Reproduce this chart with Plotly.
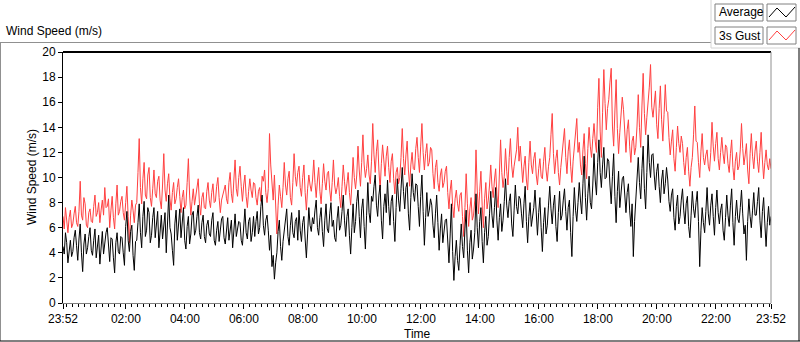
import pandas as pd
import plotly.graph_objects as go

# ---------------- data (2.5-minute samples, 23:52 -> 23:52 next day) ----------------
start_time = "2020-01-01 23:52"
step = "150s"

average = [
    4.5, 3.9, 5.6, 4.8, 3.2, 4.4, 5.0, 3.7, 4.1, 5.2, 5.8, 4.6,
    3.4, 5.1, 6.3, 4.0, 2.5, 4.7, 5.5, 3.9, 4.4, 5.3, 6.0, 4.2,
    3.8, 5.0, 5.9, 3.6, 4.6, 5.4, 3.1, 4.5, 5.7, 3.9, 4.9, 5.6,
    6.0, 4.7, 3.3, 5.2, 5.1, 3.6, 2.4, 4.8, 5.6, 4.1, 3.9, 5.3,
    5.2, 4.0, 3.0, 6.1, 7.3, 5.0, 4.1, 5.7, 6.2, 3.8, 2.6, 4.9,
    5.0, 6.4, 7.9, 5.6, 4.4, 6.9, 8.1, 5.3, 5.8, 7.6, 7.2, 4.8,
    5.4, 6.8, 7.6, 5.2, 6.1, 7.3, 4.4, 5.9, 7.0, 5.1, 6.4, 7.2,
    4.0, 6.5, 8.6, 6.0, 5.5, 4.2, 3.0, 6.3, 7.4, 5.0, 6.2, 7.5,
    5.2, 6.6, 7.6, 5.0, 4.3, 6.1, 6.9, 4.7, 5.5, 7.0, 7.3, 5.4,
    5.8, 6.9, 7.8, 5.6, 5.1, 6.4, 7.0, 5.3, 4.8, 6.2, 6.6, 5.5,
    5.3, 6.6, 7.2, 5.0, 4.6, 5.8, 6.5, 4.9, 5.6, 6.7, 6.9, 5.2,
    4.7, 6.1, 6.8, 5.0, 5.9, 6.6, 4.4, 5.5, 7.1, 5.3, 5.8, 6.5,
    6.4, 5.0, 4.6, 6.3, 7.5, 5.6, 5.1, 6.5, 6.8, 4.9, 5.6, 6.9,
    5.3, 6.5, 7.3, 5.5, 6.0, 7.7, 8.6, 6.2, 5.4, 6.6, 7.0, 5.8,
    4.2, 5.4, 2.9, 3.8, 1.9, 3.2, 4.0, 5.7, 6.6, 4.5, 3.4, 4.9,
    5.9, 6.9, 7.5, 5.3, 4.6, 6.2, 7.2, 5.6, 5.2, 6.5, 6.8, 5.0,
    7.4, 5.8, 4.9, 6.4, 6.9, 5.1, 3.6, 5.5, 7.6, 6.2, 5.7, 6.8,
    6.3, 7.4, 8.2, 6.0, 5.4, 6.8, 7.6, 5.7, 4.5, 6.6, 7.9, 5.9,
    5.6, 7.1, 8.0, 6.1, 6.6, 5.2, 4.9, 6.7, 7.7, 5.8, 6.2, 7.3,
    8.6, 6.6, 5.3, 6.9, 7.5, 5.4, 3.9, 6.0, 7.9, 5.6, 6.5, 8.1,
    9.0, 6.9, 5.2, 7.5, 8.3, 6.1, 4.3, 7.0, 9.6, 7.2, 6.4, 8.5,
    8.1, 9.3, 10.2, 7.8, 6.9, 8.6, 9.4, 6.6, 5.1, 7.7, 8.7, 7.2,
    9.8, 7.7, 6.2, 8.1, 8.6, 6.5, 4.9, 7.6, 9.9, 8.2, 7.3, 9.1,
    10.8, 8.9, 7.5, 9.2, 9.6, 7.1, 5.8, 8.4, 10.3, 8.8, 8.1, 9.5,
    9.4, 7.7, 6.1, 8.5, 10.2, 7.3, 4.6, 6.8, 8.8, 6.9, 7.4, 8.3,
    7.8, 6.2, 5.2, 7.1, 8.6, 6.4, 4.2, 5.9, 7.1, 4.8, 5.6, 6.6,
    6.7, 4.8, 3.2, 5.5, 7.9, 4.1, 1.8, 3.7, 5.0, 3.4, 2.6, 4.6,
    6.3, 4.5, 3.6, 5.9, 7.4, 4.2, 2.4, 4.8, 5.8, 3.5, 4.3, 5.6,
    8.7, 6.0, 4.4, 6.5, 7.6, 4.9, 3.2, 5.6, 6.9, 4.6, 5.3, 7.1,
    8.9, 7.0, 6.0, 7.6, 9.2, 6.6, 5.0, 6.8, 7.9, 5.7, 6.6, 8.1,
    9.9, 7.8, 6.8, 8.1, 8.7, 6.3, 5.3, 7.4, 9.4, 7.7, 7.1, 8.5,
    8.3, 7.1, 6.0, 7.9, 9.3, 6.5, 4.8, 6.9, 8.0, 6.1, 6.7, 7.6,
    9.0, 6.8, 5.4, 7.2, 8.4, 6.0, 4.1, 6.4, 7.6, 5.5, 6.2, 7.8,
    9.3, 7.5, 6.3, 7.8, 8.6, 6.1, 4.9, 7.2, 8.9, 6.6, 7.0, 8.2,
    9.1, 7.3, 5.8, 7.6, 8.2, 5.6, 3.7, 6.9, 9.2, 7.4, 6.5, 8.0,
    9.6, 8.2, 7.1, 9.5, 11.7, 8.4, 6.6, 8.7, 10.1, 8.0, 7.5, 9.4,
    11.9, 9.8, 8.6, 11.2, 13.0, 10.4, 9.2, 11.0, 12.4, 9.9, 10.0, 11.5,
    11.3, 9.4, 7.9, 10.1, 11.9, 8.5, 6.4, 8.9, 10.5, 7.6, 8.7, 9.9,
    10.1, 8.3, 7.2, 8.8, 9.5, 7.4, 6.1, 7.9, 3.7, 6.5, 8.4, 9.6,
    11.6, 9.6, 8.3, 10.7, 12.5, 9.1, 7.5, 10.4, 13.4, 11.2, 10.0, 11.8,
    11.9, 10.2, 9.0, 10.5, 11.1, 9.3, 8.0, 9.8, 10.6, 8.7, 9.5, 10.8,
    9.8, 8.1, 7.3, 8.6, 9.1, 6.8, 5.8, 7.7, 8.6, 6.3, 6.9, 8.2,
    9.1, 7.4, 6.3, 7.9, 8.5, 6.1, 5.2, 7.0, 8.9, 7.5, 6.8, 8.0,
    8.9, 6.5, 2.9, 5.8, 7.6, 6.4, 5.6, 7.3, 9.2, 7.1, 6.2, 7.8,
    8.7, 6.9, 5.4, 7.6, 9.0, 7.2, 6.3, 7.4, 7.9, 5.8, 5.0, 6.8,
    8.6, 7.0, 6.1, 7.8, 9.1, 6.4, 4.6, 6.9, 8.2, 6.7, 6.4, 7.6,
    9.0, 7.1, 5.5, 6.2, 3.4, 6.5, 8.3, 6.9, 6.0, 7.4, 8.8, 7.0,
    7.0, 8.1, 9.2, 6.6, 5.2, 7.3, 8.4, 6.3, 4.5, 6.4, 7.7, 6.2,
    6.9,
]

gust = [
    6.9, 5.9, 7.6, 6.5, 5.6, 6.8, 7.4, 6.0, 6.3, 7.1, 7.7, 6.4,
    6.1, 7.3, 9.7, 7.0, 6.6, 8.4, 7.9, 6.2, 6.0, 7.2, 7.5, 6.5,
    6.4, 7.7, 8.6, 6.9, 7.2, 8.0, 6.4, 7.4, 8.2, 7.0, 9.2, 7.6,
    7.7, 8.3, 6.0, 7.4, 8.5, 6.8, 5.9, 7.9, 9.4, 7.0, 7.3, 8.1,
    8.5, 7.2, 6.6, 8.0, 9.3, 6.9, 4.8, 7.0, 8.2, 7.4, 6.4, 7.8,
    8.0, 10.4, 13.1, 9.2, 7.9, 9.9, 11.2, 8.6, 8.3, 10.2, 10.8, 8.4,
    7.7, 9.1, 10.6, 8.7, 8.4, 9.7, 10.1, 8.2, 7.5, 9.4, 11.9, 9.0,
    8.1, 9.5, 10.3, 8.3, 7.4, 8.8, 9.6, 7.9, 8.3, 9.2, 9.9, 8.5,
    7.2, 8.4, 9.0, 7.5, 7.8, 9.6, 11.5, 8.6, 7.0, 8.1, 9.1, 7.8,
    8.6, 9.3, 9.9, 7.9, 7.0, 8.4, 8.8, 7.6, 7.5, 8.9, 9.6, 8.2,
    7.6, 8.8, 9.5, 8.0, 8.1, 9.3, 10.0, 8.4, 7.2, 8.2, 8.7, 8.9,
    9.4, 8.3, 7.9, 9.6, 10.4, 8.7, 8.0, 9.8, 11.4, 9.1, 8.5, 10.0,
    10.9, 9.3, 8.1, 9.4, 10.2, 8.5, 7.6, 8.9, 9.9, 9.0, 8.4, 9.6,
    9.5, 8.4, 7.8, 8.9, 9.2, 8.1, 10.1, 9.7, 10.6, 8.8, 8.0, 9.1,
    13.5, 11.0, 9.0, 8.2, 10.2, 7.1, 5.5, 7.8, 9.4, 8.5, 7.6, 9.2,
    11.2, 9.4, 8.6, 9.9, 10.5, 8.4, 7.8, 9.6, 11.9, 10.1, 9.3, 10.4,
    10.9, 9.2, 8.5, 10.0, 11.0, 8.8, 7.4, 9.1, 10.2, 9.4, 8.9, 9.8,
    11.4, 9.6, 8.4, 9.8, 10.8, 8.9, 7.9, 9.5, 11.1, 9.7, 9.0, 10.3,
    10.5, 9.0, 8.1, 9.6, 11.4, 9.4, 8.7, 9.2, 10.0, 8.5, 7.6, 9.3,
    11.0, 9.7, 8.6, 9.5, 10.4, 8.8, 7.8, 9.4, 11.6, 10.0, 9.1, 10.2,
    12.5, 10.6, 9.3, 11.2, 13.4, 11.0, 10.0, 10.7, 11.8, 10.2, 9.5, 11.3,
    14.3, 11.8, 10.4, 12.1, 13.0, 10.6, 9.0, 11.1, 12.6, 11.4, 10.1, 11.7,
    12.5, 10.8, 9.6, 11.3, 11.9, 9.9, 8.7, 10.4, 10.8, 9.5, 10.0, 11.6,
    13.9, 11.5, 10.2, 11.8, 12.9, 10.6, 9.3, 11.0, 12.0, 10.7, 10.6, 12.3,
    13.2, 11.6, 10.4, 12.5, 14.3, 12.0, 10.6, 11.9, 12.7, 10.9, 11.2, 12.4,
    12.2, 10.3, 9.1, 10.8, 11.4, 9.6, 8.9, 10.2, 10.7, 9.2, 9.6, 10.5,
    10.9, 8.8, 7.5, 9.0, 9.8, 7.7, 6.8, 8.3, 9.0, 7.9, 7.3, 8.6,
    8.8, 6.9, 5.3, 7.6, 10.3, 7.9, 6.1, 7.5, 8.4, 6.6, 7.0, 8.2,
    12.2, 9.0, 7.1, 8.9, 10.5, 7.8, 6.0, 8.3, 9.6, 7.5, 8.2, 9.4,
    11.0, 9.3, 8.4, 9.8, 10.7, 8.6, 7.6, 10.2, 13.0, 10.4, 9.2, 10.1,
    12.3, 10.5, 9.4, 11.6, 13.1, 11.0, 10.0, 10.9, 11.4, 12.2, 14.0, 11.3,
    12.5, 10.8, 9.6, 10.9, 11.7, 9.8, 9.0, 11.2, 12.9, 11.0, 10.3, 11.5,
    12.0, 10.2, 9.4, 10.7, 11.5, 10.1, 9.9, 11.3, 12.4, 10.6, 9.7, 10.9,
    11.6, 13.4, 15.1, 11.9, 10.3, 11.5, 12.2, 10.4, 9.4, 10.8, 11.7, 12.6,
    13.9, 11.6, 10.3, 12.1, 13.0, 10.9, 9.6, 11.3, 12.4, 13.5, 14.7, 12.0,
    12.8, 11.0, 10.2, 12.2, 13.5, 11.1, 9.9, 12.3, 14.0, 12.5, 11.6, 13.1,
    14.3, 12.9, 12.0, 15.6, 17.9, 13.7, 11.6, 15.2, 18.6, 15.9, 13.8, 15.5,
    16.2, 17.6, 18.7, 14.1, 12.5, 15.3, 17.8, 13.9, 11.9, 13.6, 15.0, 16.4,
    15.4, 13.4, 12.0, 13.8, 14.6, 12.5, 11.2, 12.9, 13.3, 11.8, 12.4, 14.1,
    16.6, 14.0, 12.4, 15.7, 18.3, 15.1, 13.4, 14.8, 15.8, 17.2, 19.0, 15.6,
    14.8, 15.9, 16.9, 14.2, 13.1, 15.5, 17.3, 14.6, 12.9, 15.0, 17.4, 15.3,
    15.2, 13.2, 11.8, 12.9, 13.8, 11.5, 10.5, 12.4, 14.1, 12.7, 12.0, 13.3,
    12.7, 11.2, 10.2, 11.6, 12.4, 10.5, 9.3, 10.8, 11.6, 13.4, 15.7, 12.9,
    12.8, 11.2, 10.0, 12.1, 13.5, 11.6, 11.0, 11.8, 12.2, 10.9, 10.5, 12.0,
    14.4, 12.5, 11.3, 12.7, 13.6, 11.5, 10.6, 12.0, 13.2, 11.9, 11.1, 12.6,
    12.4, 11.1, 10.4, 11.9, 13.0, 10.8, 9.8, 11.3, 12.0, 10.6, 10.9, 12.2,
    14.3, 12.3, 11.0, 11.8, 12.7, 10.6, 9.5, 11.9, 13.5, 11.7, 10.7, 12.1,
    12.9, 11.3, 10.4, 12.0, 13.6, 11.4, 9.9, 11.2, 12.2, 11.0, 10.6, 11.5,
    10.7,
]

assert len(average) == len(gust) == 577

x_tick_times = ["2020-01-01 23:52", "2020-01-02 02:00", "2020-01-02 04:00",
                "2020-01-02 06:00", "2020-01-02 08:00", "2020-01-02 10:00",
                "2020-01-02 12:00", "2020-01-02 14:00", "2020-01-02 16:00",
                "2020-01-02 18:00", "2020-01-02 20:00", "2020-01-02 22:00",
                "2020-01-02 23:52"]
x_tick_text = ["23:52", "02:00", "04:00", "06:00", "08:00", "10:00", "12:00",
               "14:00", "16:00", "18:00", "20:00", "22:00", "23:52"]
y_ticks = list(range(0, 21, 2))

# ---------------- figure ----------------
times = pd.date_range(start_time, periods=len(average), freq=step)

W, H = 800, 342
L, R, T, B = 63, 771, 52, 303  # plot area in pixels


def px(xp):
    return (xp - L) / (R - L)


def py(yp):
    return (B - yp) / (B - T)


FONT = "Liberation Sans"
RED = "#ff4040"

fig = go.Figure()
fig.add_trace(go.Scatter(x=times, y=gust, mode="lines", name="3s Gust",
                         line=dict(color=RED, width=1)))
fig.add_trace(go.Scatter(x=times, y=average, mode="lines", name="Average",
                         line=dict(color="black", width=1)))

fig.update_layout(
    width=W, height=H,
    margin=dict(l=L, r=W - R, t=T, b=H - B, pad=0),
    paper_bgcolor="white", plot_bgcolor="white",
    showlegend=False,
    font=dict(family=FONT, size=12, color="black"),
)
fig.update_xaxes(
    range=[times[0], times[-1]],
    tickmode="array", tickvals=x_tick_times, ticktext=x_tick_text,
    ticks="outside", ticklen=5, tickcolor="black", tickwidth=1,
    showgrid=False, zeroline=False,
    showline=True, linecolor="#808080", linewidth=1,
    minor=dict(dtick=12 * 60 * 1000, tick0="2020-01-02 00:00", ticks="outside",
               ticklen=3, tickcolor="black", showgrid=False),
    tickfont=dict(size=12, family=FONT, color="black"),
)
fig.update_yaxes(
    range=[0, 20], tickmode="array", tickvals=y_ticks,
    ticks="outside", ticklen=4, tickcolor="black",
    showgrid=False, zeroline=False,
    showline=True, linecolor="black", linewidth=1,
    tickfont=dict(size=12, family=FONT, color="black"),
)

shapes = []


def line(x0, y0, x1, y1, color, width=1):
    shapes.append(dict(type="line", xref="paper", yref="paper",
                       x0=px(x0), y0=py(y0), x1=px(x1), y1=py(y1),
                       line=dict(color=color, width=width), layer="above"))


def rect(x0, y0, x1, y1, color, fill="white"):
    shapes.append(dict(type="rect", xref="paper", yref="paper",
                       x0=px(x0), y0=py(y0), x1=px(x1), y1=py(y1),
                       line=dict(color=color, width=1), fillcolor=fill,
                       layer="above"))


# plot frame
line(L, T, R, T, "black", 2)
line(R, T, R, B, "#909090")
# outer frame
line(0, 42.5, 711, 42.5, "#909090")
line(711, 0, 711, 48, "#d4d4d4")
line(711, 48, 800, 48, "#d4d4d4")
line(0.5, 42, 0.5, 341, "#909090")
line(0, 341, 800, 341, "black")
line(799, 48, 799, 341, "black")

# legend boxes
rect(715, 4, 763, 21, "#808080")
rect(767, 4, 796, 21, "#808080")
rect(715, 27, 763, 44, "#808080")
rect(767, 27, 796, 44, "#808080")


def zigzag(pts, color):
    d = "M " + " L ".join(f"{px(a)},{py(b)}" for a, b in pts)
    shapes.append(dict(type="path", xref="paper", yref="paper", path=d,
                       line=dict(color=color, width=1), layer="above"))


zigzag([(769, 17), (777, 8), (786, 17), (795, 7)], "black")
zigzag([(769, 40), (777, 31), (786, 40), (795, 30)], RED)

fig.update_layout(shapes=shapes)

ann = [
    dict(text="Wind Speed (m/s)", x=px(4), y=py(31), xanchor="left", yanchor="middle"),
    dict(text="Average", x=px(717), y=py(12.5), xanchor="left", yanchor="middle"),
    dict(text="3s Gust", x=px(717), y=py(35.5), xanchor="left", yanchor="middle"),
    dict(text="Time", x=px(417), y=py(334), xanchor="center", yanchor="middle"),
    dict(text="Wind Speed (m/s)", x=px(32), y=py(177), xanchor="center",
         yanchor="middle", textangle=-90),
]
for a in ann:
    a.update(xref="paper", yref="paper", showarrow=False,
             font=dict(family=FONT, size=12, color="black"))
fig.update_layout(annotations=ann)

fig.write_html("out.html",
               config={"displayModeBar": False},
               post_script="document.body.style.margin='0';"
                           "document.body.style.overflow='hidden';")
